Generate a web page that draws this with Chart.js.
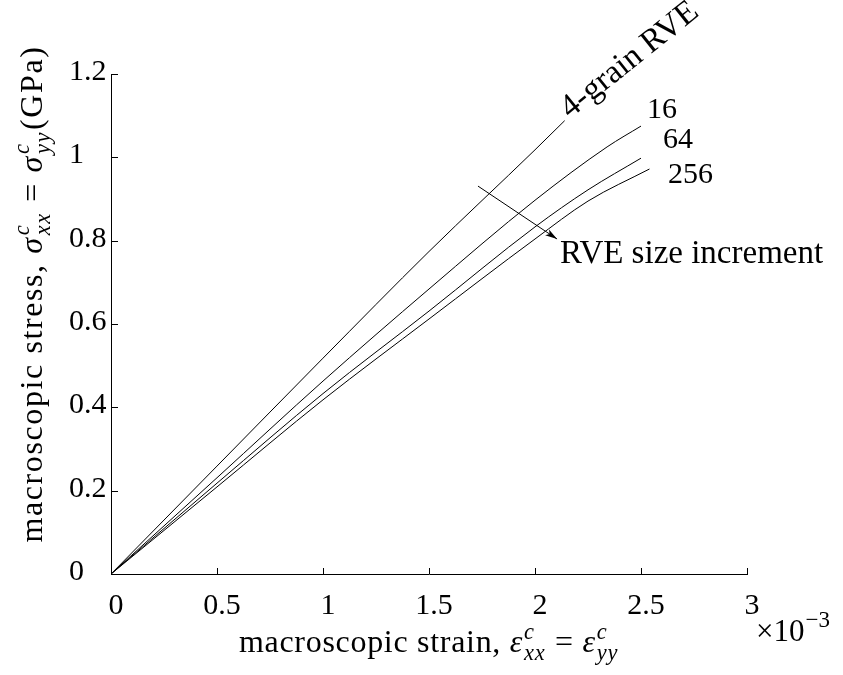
<!DOCTYPE html>
<html>
<head>
<meta charset="utf-8">
<script src="https://cdn.jsdelivr.net/npm/chart.js@4"></script>
<style>
  body { margin: 0; background: #fff; }
  canvas { display: block; }
</style>
</head>
<body>
<canvas id="chart" width="843" height="675"></canvas>
<script>
// values (strain in 1e-3, stress in GPa)
var xTicks = [0, 0.5, 1, 1.5, 2, 2.5, 3]
var xTickLabels = ['0', '0.5', '1', '1.5', '2', '2.5', '3']
var yTicks = [0, 0.2, 0.4, 0.6, 0.8, 1, 1.2]
var yTickLabels = ['0', '0.2', '0.4', '0.6', '0.8', '1', '1.2']

var strain4 = [0, 0.5, 1, 1.5, 2, 2.14]
var stress4 = [0, 0.259, 0.518, 0.774, 1.018, 1.088]
var strain16 = [0, 0.5, 1, 1.5, 2, 2.34, 2.5]
var stress16 = [0, 0.231, 0.463, 0.684, 0.897, 1.025, 1.075]
var strain64 = [0, 0.5, 1, 1.5, 2, 2.25, 2.5]
var stress64 = [0, 0.218, 0.433, 0.631, 0.833, 0.922, 0.998]
var strain256 = [0, 0.5, 1, 1.5, 2, 2.25, 2.54]
var stress256 = [0, 0.209, 0.418, 0.612, 0.804, 0.895, 0.972]

var SERIF = '"Liberation Serif", "DejaVu Serif", serif'

function pts(xs, ys) {
  return xs.map(function (x, i) { return { x: x, y: ys[i] } })
}
function fnt(size, it) {
  return (it ? 'italic ' : '') + size + 'px ' + SERIF
}

// little text runs with super/subscripts: {t, it} or {sup, sub}
function mathWidth(ctx, parts, size) {
  var w = 0
  parts.forEach(function (p) {
    if (p.sup !== undefined) {
      ctx.font = fnt(size * 0.7, true)
      w += Math.max(ctx.measureText(p.sup).width, ctx.measureText(p.sub).width) + 2
    } else {
      ctx.font = fnt(size, p.it)
      w += ctx.measureText(p.t).width
    }
  })
  return w
}
function drawMath(ctx, parts, x, y, size) {
  ctx.textAlign = 'left'
  ctx.textBaseline = 'alphabetic'
  parts.forEach(function (p) {
    if (p.sup !== undefined) {
      ctx.font = fnt(size * 0.7, true)
      ctx.fillText(p.sup, x + 1, y - size * 0.4)
      ctx.fillText(p.sub, x + 1, y + size * 0.25)
      x += Math.max(ctx.measureText(p.sup).width, ctx.measureText(p.sub).width) + 2
    } else {
      ctx.font = fnt(size, p.it)
      ctx.fillText(p.t, x, y)
      x += ctx.measureText(p.t).width
    }
  })
}

var xTitle = [
  { t: 'macroscopic strain, ' }, { t: 'ε', it: true }, { sup: 'c', sub: 'xx' },
  { t: ' = ' }, { t: 'ε', it: true }, { sup: 'c', sub: 'yy' }
]
var yTitle = [
  { t: 'macroscopic stress, ' }, { t: 'σ', it: true }, { sup: 'c', sub: 'xx' },
  { t: ' = ' }, { t: 'σ', it: true }, { sup: 'c', sub: 'yy' }, { t: '(GPa)' }
]

var decor = {
  id: 'decor',
  afterDraw: function (chart) {
    var ctx = chart.ctx
    var xs = chart.scales.x
    var ys = chart.scales.y
    var a = chart.chartArea
    ctx.save()
    ctx.strokeStyle = '#000'
    ctx.fillStyle = '#000'
    ctx.lineWidth = 1

    // inward ticks
    ctx.beginPath()
    xTicks.forEach(function (v) {
      var p = Math.round(xs.getPixelForValue(v)) + 0.5
      ctx.moveTo(p, a.bottom)
      ctx.lineTo(p, a.bottom - 6)
    })
    yTicks.forEach(function (v) {
      var p = Math.round(ys.getPixelForValue(v)) + 0.5
      ctx.moveTo(a.left, p)
      ctx.lineTo(a.left + 7, p)
    })
    ctx.stroke()

    // axis titles
    ctx.letterSpacing = '0.7px'
    var w = mathWidth(ctx, xTitle, 32)
    drawMath(ctx, xTitle, (a.left + a.right) / 2 - w / 2, 652, 32)

    ctx.letterSpacing = '1.6px'
    w = mathWidth(ctx, yTitle, 32)
    ctx.save()
    ctx.translate(42, 294)
    ctx.rotate(-Math.PI / 2)
    drawMath(ctx, yTitle, -w / 2, 0, 32)
    ctx.restore()
    ctx.letterSpacing = '0px'

    // exponent
    ctx.font = fnt(31)
    ctx.textAlign = 'left'
    ctx.fillText('×10', 756, 641)
    var ew = ctx.measureText('×10').width
    ctx.font = fnt(23)
    ctx.fillText('−3', 756 + ew + 1, 627)

    // curve labels
    ctx.font = fnt(30)
    ctx.fillText('16', xs.getPixelForValue(2.528), ys.getPixelForValue(1.094))
    ctx.fillText('64', xs.getPixelForValue(2.604), ys.getPixelForValue(1.022))
    ctx.fillText('256', xs.getPixelForValue(2.627), ys.getPixelForValue(0.938))
    ctx.font = fnt(33)
    ctx.fillText('RVE size increment', xs.getPixelForValue(2.118), ys.getPixelForValue(0.746))

    ctx.save()
    ctx.translate(xs.getPixelForValue(2.165), ys.getPixelForValue(1.092))
    ctx.rotate(-38.7 * Math.PI / 180)
    ctx.font = fnt(33)
    ctx.fillText('4-grain RVE', 0, 0)
    ctx.restore()

    // arrow
    var x1 = xs.getPixelForValue(1.731), y1 = ys.getPixelForValue(0.931)
    var x2 = xs.getPixelForValue(2.104), y2 = ys.getPixelForValue(0.804)
    var ang = Math.atan2(y2 - y1, x2 - x1)
    ctx.beginPath()
    ctx.moveTo(x1, y1)
    ctx.lineTo(x2, y2)
    ctx.stroke()
    ctx.beginPath()
    ctx.moveTo(x2, y2)
    ctx.lineTo(x2 - 12 * Math.cos(ang) + 3.5 * Math.sin(ang), y2 - 12 * Math.sin(ang) - 3.5 * Math.cos(ang))
    ctx.lineTo(x2 - 9 * Math.cos(ang), y2 - 9 * Math.sin(ang))
    ctx.lineTo(x2 - 12 * Math.cos(ang) - 3.5 * Math.sin(ang), y2 - 12 * Math.sin(ang) + 3.5 * Math.cos(ang))
    ctx.closePath()
    ctx.fill()
    ctx.restore()
  }
}

function line(xs, ys) {
  return {
    data: pts(xs, ys),
    borderColor: '#000',
    borderWidth: 1,
    pointRadius: 0,
    fill: false,
    cubicInterpolationMode: 'monotone'
  }
}

var ctx = document.getElementById('chart').getContext('2d')
var myChart = new Chart(ctx, {
  type: 'line',
  data: {
    datasets: [
      line(strain4, stress4),
      line(strain16, stress16),
      line(strain64, stress64),
      line(strain256, stress256)
    ]
  },
  options: {
    responsive: false,
    animation: false,
    events: [],
    layout: { padding: { left: 69, top: 74, right: 96, bottom: 0 } },
    plugins: {
      legend: { display: false },
      tooltip: { enabled: false }
    },
    scales: {
      x: {
        type: 'linear',
        min: 0,
        max: 3,
        afterBuildTicks: function (scale) {
          scale.ticks = xTicks.map(function (v) { return { value: v } })
        },
        afterFit: function (scale) { scale.height = 101 },
        grid: { display: false, drawTicks: false },
        border: { display: true, color: '#000', width: 1 },
        ticks: {
          color: '#000',
          font: { family: SERIF, size: 30 },
          padding: 14,
          labelOffset: 5,
          maxRotation: 0,
          autoSkip: false,
          callback: function (v, i) { return xTickLabels[i] }
        }
      },
      y: {
        type: 'linear',
        min: 0,
        max: 1.2,
        afterBuildTicks: function (scale) {
          scale.ticks = yTicks.map(function (v) { return { value: v } })
        },
        afterFit: function (scale) { scale.width = 42 },
        grid: { display: false, drawTicks: false },
        border: { display: true, color: '#000', width: 1 },
        ticks: {
          color: '#000',
          font: { family: SERIF, size: 30 },
          crossAlign: 'far',
          labelOffset: -2,
          autoSkip: false,
          callback: function (v, i) { return yTickLabels[i] }
        }
      }
    }
  },
  plugins: [decor]
})
</script>
</body>
</html>
